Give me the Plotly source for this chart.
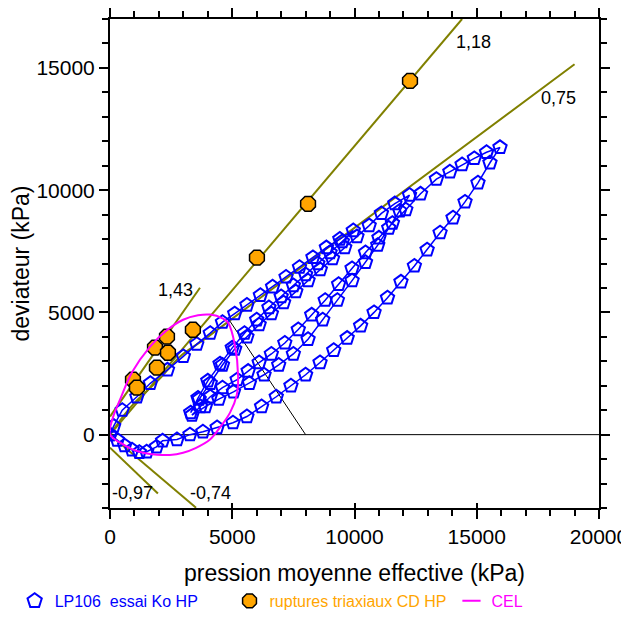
import plotly.graph_objects as go

FONT = "Liberation Sans, Arial, sans-serif"

# ---- data (kPa) ----
# K0 test LP106: loading / unloading cycles
ko_p = [0, 150, 500, 1100, 1650, 2350, 3000, 3550, 4100, 4600, 5100, 5600, 6150, 6650, 7200, 7750, 8300, 8850, 9400, 9950,
        9500, 9000, 8500, 8000, 7500, 7000, 6500, 6000, 5500, 5000, 4500, 4000, 3600, 3300,
        3650, 4100, 4600, 5100, 5600, 6100, 6600, 7100, 7600, 8100, 8600, 9100, 9600, 10100, 10600, 11100,
        11650, 12250,
        11850, 11400, 10950, 10450, 9900, 9300, 8700, 8100, 7500, 6900, 6300, 5700, 5050, 4450, 3900, 3350,
        3700, 4100, 4600, 5200, 5650, 6100, 6600, 7150, 7700, 8250, 8800, 9350, 9900, 10450, 11000, 11550, 12100, 12700,
        13350, 13900, 14400, 14900, 15400, 15950,
        15540, 15050, 14520, 14030, 13500, 12970, 12450, 11900, 11350, 10800, 10250, 9700, 9150, 8590, 8000, 7400, 6800, 6200, 5600, 5030, 4380, 3800, 3270, 2740, 2150,
        1900, 1500, 1200, 900, 600, 300, 0]
ko_q = [0, 350, 1000, 1550, 2100, 2650, 3200, 3700, 4150, 4600, 4950, 5300, 5700, 6050, 6450, 6850, 7250, 7650, 8000, 8350,
        7900, 7450, 7000, 6550, 6100, 5650, 5200, 4700, 4150, 3550, 2900, 2200, 1500, 900,
        1450, 2100, 2850, 3500, 4000, 4500, 4950, 5400, 5850, 6300, 6750, 7200, 7650, 8100, 8550, 9050,
        9450, 9800,
        9150, 8450, 7750, 7050, 6300, 5500, 4700, 3900, 3300, 2850, 2450, 2100, 1750, 1450, 1150, 800,
        1150, 1550, 1920, 2250, 2600, 2950, 3300, 3750, 4300, 4900, 5500, 6150, 6800, 7450, 8050, 8650, 9200, 9850,
        10450, 10750, 11050, 11300, 11550, 11750,
        11120, 10300, 9520, 8870, 8260, 7560, 6900, 6250, 5600, 5000, 4450, 3950, 3450, 2950, 2450, 2000, 1550, 1150, 740, 490, 290, 120, 0, -200, -250,
        -500, -700, -720, -620, -450, -220, 0]

# triaxial CD HP failures
rup_p = [940, 1100, 1920, 1840, 2370, 2330, 3390, 6010, 8100, 12270]
rup_q = [2250, 1920, 2740, 3560, 3350, 4010, 4290, 7240, 9440, 14470]

# CEL (yield curve)
cel_p = [0, 120, 410, 900, 1640, 2300, 2990, 3600, 4090, 4600, 4830, 5100, 5240, 5180, 4910, 4500, 4090, 3500, 2990, 2450, 1920, 1400, 940, 450, 0]
cel_q = [0, 700, 1430, 2550, 3600, 4250, 4700, 4880, 4910, 4760, 4580, 3700, 2370, 1600, 900, 300, -200, -550, -740, -830, -820, -750, -610, -350, 0]

# reference lines (slopes labelled on chart)
l118_p = [0, 14400]; l118_q = [0, 17000]
l143_p = [0, 3680]; l143_q = [740, 6010]
l075_p = [0, 500, 1000, 2000, 2860, 4000, 19000]; l075_q = [0, 700, 1300, 2250, 3190, 4000, 15150]
l097_p = [0, 1960]; l097_q = [-530, -2410]
l074_p = [0, 3520]; l074_q = [0, -2990]
blk_p = [4900, 8000]; blk_q = [4650, 0]
zero_p = [0, 20000]; zero_q = [0, 0]

labels_txt = ["1,18", "0,75", "1,43", "-0,97", "-0,74"]
labels_p = [14850, 18330, 2660, 940, 4130]
labels_q = [16070, 13780, 5930, -2370, -2370]

OLIVE = "#808000"
BLUE = "#0000FF"
ORANGE = "#FFA500"
MAG = "#FF00FF"
NB = "\u00a0"
fig = go.Figure()
for xs, ys, col, w in [(zero_p, zero_q, "black", 1), (blk_p, blk_q, "black", 1),
                       (l118_p, l118_q, OLIVE, 2), (l143_p, l143_q, OLIVE, 2), (l075_p, l075_q, OLIVE, 2),
                       (l097_p, l097_q, OLIVE, 2), (l074_p, l074_q, OLIVE, 2)]:
    fig.add_trace(go.Scatter(x=xs, y=ys, mode="lines", line=dict(color=col, width=w, shape="spline" if len(xs) > 2 else "linear"),
                             showlegend=False, hoverinfo="skip"))

fig.add_trace(go.Scatter(x=ko_p, y=ko_q, mode="lines+markers", showlegend=False,
                         line=dict(color=BLUE, width=1.5),
                         marker=dict(symbol="pentagon-open", size=14, color=BLUE, line=dict(width=2, color=BLUE))))
fig.add_trace(go.Scatter(x=rup_p, y=rup_q, mode="markers", showlegend=False,
                         marker=dict(symbol="octagon", size=16, color=ORANGE, line=dict(width=1.5, color="black"))))
fig.add_trace(go.Scatter(x=cel_p, y=cel_q, mode="lines", showlegend=False,
                         line=dict(color=MAG, width=2, shape="spline", smoothing=1.0)))

# legend-only entries (symbol look as in the reference legend)
fig.add_trace(go.Scatter(x=[None], y=[None], mode="markers",
                         name='<span style="color:#0000FF">LP106' + NB * 2 + 'essai Ko HP' + NB * 6 + '</span>',
                         marker=dict(symbol="pentagon-open", size=15, color=BLUE, line=dict(width=2, color=BLUE))))
fig.add_trace(go.Scatter(x=[None], y=[None], mode="markers",
                         name='<span style="color:#FFA500">ruptures triaxiaux CD HP</span>',
                         marker=dict(symbol="octagon", size=15, color=ORANGE, line=dict(width=1.5, color="black"))))
fig.add_trace(go.Scatter(x=[None], y=[None], mode="markers",
                         name='<span style="color:#FF00FF">CEL</span>',
                         marker=dict(symbol="line-ew", size=13, color=MAG, line=dict(width=2, color=MAG))))

# inner part of major ticks on the bottom axis (ticks cross the axis line)
fig.add_trace(go.Scatter(x=[None], y=[None], xaxis="x2", showlegend=False, hoverinfo="skip"))

for t, xp, yq in zip(labels_txt, labels_p, labels_q):
    fig.add_annotation(x=xp, y=yq, text=t, showarrow=False, font=dict(family=FONT, size=18, color="black"))

axis_common = dict(showgrid=False, zeroline=False, showline=True, linecolor="black", linewidth=2,
                   ticks="outside", ticklen=9, tickwidth=2, tickcolor="black", mirror="ticks",
                   tickformat="d",
                   tickfont=dict(family=FONT, size=21, color="black"),
                   minor=dict(ticks="outside", ticklen=6, tickwidth=1.5, tickcolor="black", dtick=1000))
fig.update_xaxes(range=[0, 20000], dtick=5000, tick0=0,
                 title=dict(text="pression moyenne effective (kPa)", font=dict(family=FONT, size=23, color="black"), standoff=18),
                 **axis_common)
fig.update_yaxes(range=[-3000, 17000], dtick=5000, tick0=0,
                 title=dict(text="deviateur (kPa)", font=dict(family=FONT, size=23, color="black"), standoff=8),
                 **axis_common)

# page body adds an 8px margin: figure is 8px smaller than the window, margins compensated
fig.update_layout(width=621, height=609, margin=dict(l=102, r=30, t=11, b=109, autoexpand=False),
                  paper_bgcolor="white", plot_bgcolor="white",
                  font=dict(family=FONT, size=16),
                  xaxis2=dict(overlaying="x", anchor="y", side="bottom", range=[0, 20000], dtick=5000, tick0=0,
                              showgrid=False, zeroline=False, showline=False, showticklabels=False,
                              ticks="inside", ticklen=5, tickwidth=2, tickcolor="black"),
                  legend=dict(orientation="h", x=-0.195, xanchor="left", y=-0.19, yanchor="middle",
                              font=dict(family=FONT, size=16),
                              bgcolor="rgba(0,0,0,0)", itemwidth=30))
fig.write_html("out.html")
